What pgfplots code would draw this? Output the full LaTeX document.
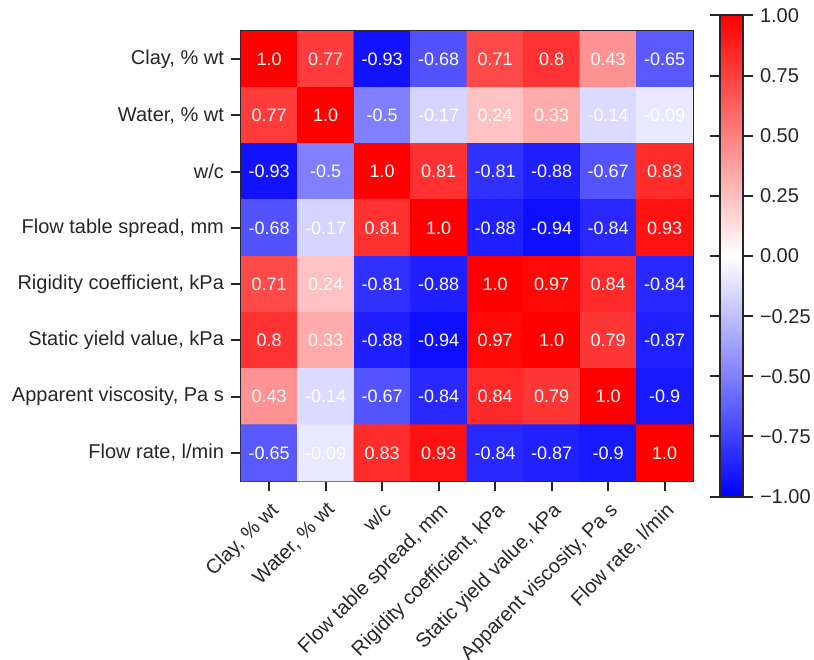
\documentclass[border=0pt]{standalone}
\usepackage{pgfplots}
\usepackage{pgfplotstable}
\pgfplotsset{compat=1.18}
\usepackage{fontspec}
\setmainfont{Liberation Sans}
\definecolor{axgray}{RGB}{38,38,38}

\pgfplotstableread{
x y c l
0 0 1.0 1.0
1 0 0.77 0.77
2 0 -0.93 -0.93
3 0 -0.68 -0.68
4 0 0.71 0.71
5 0 0.8 0.8
6 0 0.43 0.43
7 0 -0.65 -0.65
0 1 0.77 0.77
1 1 1.0 1.0
2 1 -0.5 -0.5
3 1 -0.17 -0.17
4 1 0.24 0.24
5 1 0.33 0.33
6 1 -0.14 -0.14
7 1 -0.09 -0.09
0 2 -0.93 -0.93
1 2 -0.5 -0.5
2 2 1.0 1.0
3 2 0.81 0.81
4 2 -0.81 -0.81
5 2 -0.88 -0.88
6 2 -0.67 -0.67
7 2 0.83 0.83
0 3 -0.68 -0.68
1 3 -0.17 -0.17
2 3 0.81 0.81
3 3 1.0 1.0
4 3 -0.88 -0.88
5 3 -0.94 -0.94
6 3 -0.84 -0.84
7 3 0.93 0.93
0 4 0.71 0.71
1 4 0.24 0.24
2 4 -0.81 -0.81
3 4 -0.88 -0.88
4 4 1.0 1.0
5 4 0.97 0.97
6 4 0.84 0.84
7 4 -0.84 -0.84
0 5 0.8 0.8
1 5 0.33 0.33
2 5 -0.88 -0.88
3 5 -0.94 -0.94
4 5 0.97 0.97
5 5 1.0 1.0
6 5 0.79 0.79
7 5 -0.87 -0.87
0 6 0.43 0.43
1 6 -0.14 -0.14
2 6 -0.67 -0.67
3 6 -0.84 -0.84
4 6 0.84 0.84
5 6 0.79 0.79
6 6 1.0 1.0
7 6 -0.9 -0.9
0 7 -0.65 -0.65
1 7 -0.09 -0.09
2 7 0.83 0.83
3 7 0.93 0.93
4 7 -0.84 -0.84
5 7 -0.87 -0.87
6 7 -0.9 -0.9
7 7 1.0 1.0
}\corr

\begin{document}
\begin{tikzpicture}
\begin{axis}[
  at={(0,0)}, anchor=south west,
  scale only axis,
  width=226pt, height=225pt,
  xmin=-0.5, xmax=7.5, ymin=-0.5, ymax=7.5,
  y dir=reverse,
  axis line style={axgray, line width=1pt},
  tick style={axgray, line width=1pt},
  major tick length=5pt,
  tick align=outside,
  xtick={0,...,7}, ytick={0,...,7},
  xtick pos=bottom, ytick pos=left,
  xticklabels={{Clay, \% wt},{Water, \% wt},{w/c},{Flow table spread, mm},{Rigidity coefficient, kPa},{Static yield value, kPa},{Apparent viscosity, Pa s},{Flow rate, l/min}},
  yticklabels={{Clay, \% wt},{Water, \% wt},{w/c},{Flow table spread, mm},{Rigidity coefficient, kPa},{Static yield value, kPa},{Apparent viscosity, Pa s},{Flow rate, l/min}},
  ticklabel style={font=\fontsize{10}{12}\selectfont, text=axgray},
  xticklabel style={rotate=45, anchor=north east},
  colormap={bwr}{rgb=(0,0,1) rgb=(1,1,1) rgb=(1,0,0)},
  point meta min=-1, point meta max=1,
  colorbar shift/.style={xshift=13.5pt},
  colorbar,
  colorbar style={
    at={(parent axis.east)}, anchor=west,
    width=11.5pt, height=240.5pt,
    scale only axis,
    axis line style={axgray, line width=1pt},
    ytick={-1,-0.75,-0.5,-0.25,0,0.25,0.5,0.75,1},
    yticklabels={−1.00,−0.75,−0.50,−0.25,0.00,0.25,0.50,0.75,1.00},
    yticklabel style={font=\fontsize{10}{12}\selectfont, text=axgray},
    major tick length=5pt,
    tick align=outside,
    tick style={axgray, line width=1pt},
  },
]
\addplot[matrix plot*, mesh/cols=8, point meta=explicit] table[x=x, y=y, meta=c] {\corr};
\addplot[draw=none, mark=none, nodes near coords, point meta=explicit symbolic,
  every node near coord/.append style={anchor=center, text=white, font=\fontsize{9}{11}\selectfont}]
  table[x=x, y=y, meta=l] {\corr};
\end{axis}
\pgfresetboundingbox
\path[use as bounding box] (-120.5pt,-89pt) rectangle (286.5pt,240.5pt);
\end{tikzpicture}
\end{document}
